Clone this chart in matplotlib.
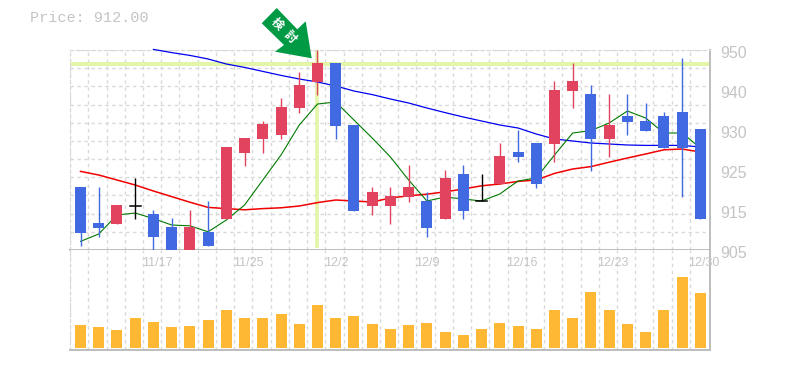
#!/usr/bin/env python3
"""Candlestick chart with moving averages and volume panel."""

import matplotlib
matplotlib.use("Agg")
import matplotlib.pyplot as plt
from matplotlib.patches import Polygon, Rectangle

# Price values are in the chart's own linear units, tick labels are uneven in the source
OPEN = [916.5, 907.5, 907.25, 911.8, 909.75, 906.5, 900.5, 905.25, 908.5, 925.0, 928.5, 929.5, 936.25, 942.75,
        947.5, 932.0, 911.75, 911.75, 914.0, 913.0, 908.5, 919.75, 913.0, 917.25, 925.25, 927.5, 927.25,
        940.5, 939.75, 928.5, 934.25, 933.0, 934.25, 935.25, 931.0]
CLOSE = [905.0, 906.25, 912.0, 911.8, 904.0, 900.5, 906.5, 901.75, 926.5, 928.75, 932.25, 936.5, 942.0, 947.5,
         931.75, 910.5, 915.25, 914.25, 916.5, 906.25, 918.75, 910.5, 913.0, 924.25, 924.0, 917.25, 940.75,
         943.0, 928.5, 932.0, 932.75, 930.5, 926.25, 926.25, 908.5]
HIGH = [916.5, 916.5, 912.0, 918.75, 910.75, 908.75, 910.75, 913.0, 926.5, 928.75, 933.0, 938.75, 945.25, 950.75,
        947.5, 932.0, 916.5, 916.5, 922.0, 915.25, 920.75, 922.0, 919.75, 927.5, 930.75, 927.5, 943.0,
        947.5, 942.0, 939.75, 939.75, 937.5, 935.25, 948.75, 931.0]
LOW = [901.75, 904.0, 907.25, 908.5, 900.5, 900.5, 900.5, 901.75, 908.5, 921.75, 925.0, 928.5, 935.0, 939.5,
       928.5, 910.5, 909.5, 907.25, 912.75, 904.0, 908.5, 908.5, 913.0, 917.25, 922.75, 916.25, 922.75,
       936.25, 920.5, 924.0, 929.5, 930.5, 926.25, 914.0, 908.5]

MA_LONG = [950.9, 950.1, 949.4, 948.5, 947.25, 946.4, 945.4, 944.4, 943.5, 942.75, 941.75, 940.5, 939.6,
           938.5, 937.5, 936.25, 935.1, 934.0, 933.0, 932.0, 931.25, 929.75, 928.5, 928.0, 927.5, 927.25,
           927.0, 926.9, 926.9, 926.9, 926.5]
MA_MID = [920.4, 919.5, 918.25, 917.0, 915.5, 914.1, 912.7, 911.4, 911.1, 910.8, 911.1, 911.3, 911.75, 912.6,
          913.25, 913.0, 912.75, 913.75, 914.3, 914.7, 915.3, 916.0, 916.8, 917.25, 917.9, 918.25, 919.9,
          921.0, 921.6, 922.7, 923.75, 924.75, 925.8, 926.0, 925.25]
MA_SHORT = [902.9, 904.75, 909.5, 910.0, 908.6, 907.0, 906.8, 905.3, 908.25, 912.0, 918.25, 924.5, 932.0, 937.25,
            937.75, 933.25, 928.75, 924.0, 918.25, 913.0, 914.0, 913.5, 913.0, 914.75, 918.0, 918.75, 924.5,
            930.0, 930.6, 932.5, 935.5, 933.75, 930.0, 930.0, 926.25]

VOLUME = [23, 21, 18, 30, 26, 21, 22, 28, 38, 30, 30, 34, 24, 43, 30, 32, 24, 19, 23, 25, 16, 13, 19, 25, 22,
          19, 38, 30, 56, 38, 24, 16, 38, 71, 55]

Y_TICKS = [950, 940, 930, 920, 910, 900]
Y_LABELS = ["950", "940", "930", "925", "915", "905"]
DATE_POS = [4.2, 9.19, 14.03, 19.05, 24.2, 29.2, 34.2]
DATE_LABELS = ["11/17", "11/25", "12/2", "12/9", "12/16", "12/23", "12/30"]
SIGNAL_INDEX = 13
SIGNAL_PRICE = 947.25

UP = "#e24460"
DOWN = "#4169e1"
VOL = "#ffb834"
LIME = "#e3f6a8"
GRID = "#d9d9d9"
AXIS = "#bdbdbd"
TXT = "#c4c4c4"
W, H = 785, 370
CANDLE_W = 0.6
XLIM = (-0.576, 34.53)


def px_axes(fig, left, top, right, bottom):
    return fig.add_axes([left / W, 1 - bottom / H, (right - left) / W, (bottom - top) / H])


def style_grid(ax):
    ax.set_xlim(*XLIM)
    ax.set_xticks([i - 0.57 for i in range(35)])
    ax.tick_params(length=0, labelbottom=False, labelleft=False)
    ax.grid(axis="x", color=GRID, linestyle=(0, (2.5, 2.5)), linewidth=1)
    ax.set_axisbelow(True)
    for s in ax.spines.values():
        s.set_visible(False)
    ax.spines["left"].set_visible(True)
    ax.spines["left"].set_color(GRID)
    ax.spines["left"].set_linestyle((0, (2.5, 2.5)))
    ax.spines["right"].set_visible(True)
    ax.spines["right"].set_color(AXIS)
    ax.spines["right"].set_linewidth(1.4)
    ax.spines["bottom"].set_visible(True)
    ax.spines["bottom"].set_color(AXIS)
    ax.spines["bottom"].set_linewidth(1.4)


def draw_candles(ax):
    for i, (o, c, h, l) in enumerate(zip(OPEN, CLOSE, HIGH, LOW)):
        if o == c:
            color = "black"
            ax.plot([i - 0.3, i + 0.3], [o, c], color=color, linewidth=1.1, zorder=5)
        else:
            color = UP if c > o else DOWN
            ax.add_patch(Rectangle((i - CANDLE_W / 2, min(o, c)), CANDLE_W, abs(o - c),
                                   facecolor=color, edgecolor="none", zorder=5))
        ax.plot([i, i], [l, h], color=color, linewidth=1.0, zorder=4.5, solid_capstyle="butt")


def draw_lines(ax):
    xs = list(range(35))
    ax.plot(xs[4:], MA_LONG, color="#0000f0", linewidth=0.9, zorder=3, clip_on=False)
    ax.plot(xs, MA_MID, color="#f00000", linewidth=1.1, zorder=3)
    ax.plot(xs, MA_SHORT, color="#007a00", linewidth=0.8, zorder=3)


def draw_signal(fig, ax):
    ax.axhline(SIGNAL_PRICE, color=LIME, linewidth=2.9, zorder=2, solid_capstyle="butt")
    ax.plot([SIGNAL_INDEX, SIGNAL_INDEX], [901.2, 950.75], color=LIME, linewidth=2.6, zorder=2,
            solid_capstyle="butt")

    # grönpil ovanför signalen
    arrow_px = [(276.7, 8), (261.7, 23.3), (284, 45), (275, 51.7), (311.7, 58.3),
                (305.7, 21.3), (297.3, 29.3)]
    pts = [(x / W, 1 - y / H) for x, y in arrow_px]
    fig.add_artist(Polygon(pts, closed=True, facecolor="#009a44", edgecolor="none",
                           transform=fig.transFigure, zorder=10))
    for ch, (x, y) in zip("検討", [(277, 24), (290, 36.7)]):
        fig.text(x / W, 1 - y / H, ch, color="white", fontsize=8.5, fontweight="bold",
                 family=["Noto Sans CJK JP", "DejaVu Sans"], rotation=-45, rotation_mode="anchor",
                 ha="center", va="center", zorder=11)


def main():
    fig = plt.figure(figsize=(W / 100, H / 100), dpi=100, facecolor="white")

    ax = px_axes(fig, 70, 50, 710, 250)
    style_grid(ax)
    ax.set_ylim(900.75, 950.75)
    ax.set_yticks([950.75 - k * 50 / 11 for k in range(12)])
    ax.grid(axis="y", color=GRID, linestyle=(0, (2.5, 2.5)), linewidth=1)
    ax.spines["top"].set_visible(True)
    ax.spines["top"].set_color(GRID)
    ax.spines["top"].set_linestyle((0, (2.5, 2.5)))

    draw_signal(fig, ax)
    draw_lines(ax)
    draw_candles(ax)

    for y, lab in zip(Y_TICKS, Y_LABELS):
        ax.annotate(lab, xy=(1, y), xycoords=ax.get_yaxis_transform(), xytext=(10, 0),
                    textcoords="offset pixels", color=TXT, fontsize=11.5, va="center", ha="left",
                    family="Liberation Sans", annotation_clip=False)

    vol_ax = px_axes(fig, 70, 250, 710, 350)
    style_grid(vol_ax)
    vol_ax.set_ylim(-2, 98)
    vol_ax.bar(range(35), VOLUME, width=CANDLE_W, color=VOL, zorder=3)

    for pos, lab in zip(DATE_POS, DATE_LABELS):
        vol_ax.text(pos, 85.3, lab, color=TXT, fontsize=9, ha="center", va="center",
                    family="Liberation Sans", clip_on=False, zorder=6)

    fig.text(30 / W, 1 - 18 / H, "Price: 912.00", color=TXT, fontsize=10.9,
             family="Liberation Mono", ha="left", va="center")

    fig.savefig("out.png", dpi=100)
    plt.close(fig)


if __name__ == "__main__":
    main()
